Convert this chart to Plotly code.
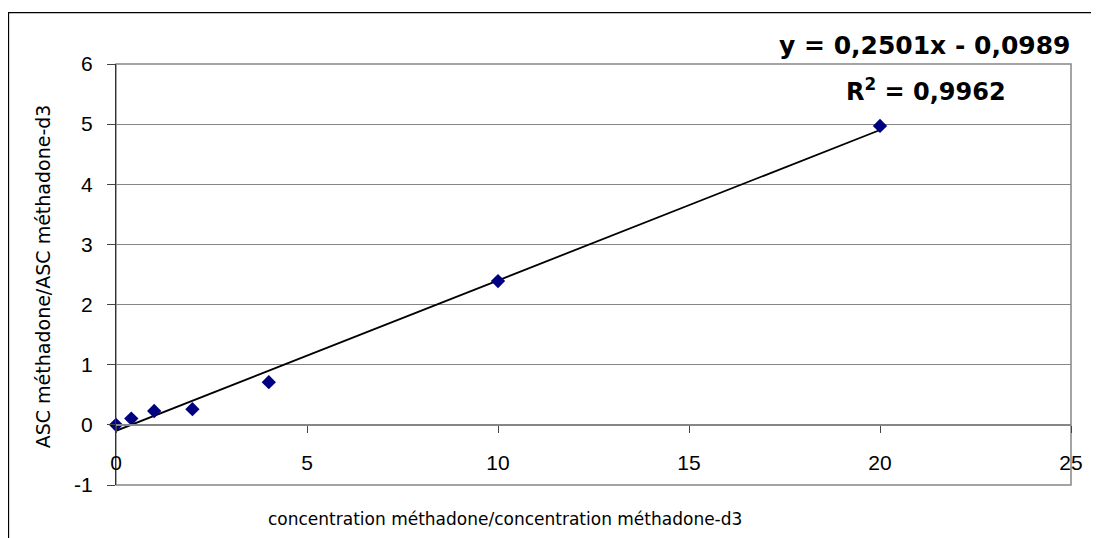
import plotly.graph_objects as go

# Data
x_conc = [0, 0.4, 1, 2, 4, 10, 20]
y_ratio = [0, 0.105, 0.23, 0.26, 0.71, 2.39, 4.97]
slope = 0.2501
intercept = -0.0989
trend_x = [0, 20]
x_tick_vals = [0, 5, 10, 15, 20, 25]
x_tick_text = ["0", "5", "10", "15", "20", "25"]
y_tick_vals = [-1, 0, 1, 2, 3, 4, 5, 6]
y_tick_text = ["-1", "0", "1", "2", "3", "4", "5", "6"]
eq_text = "y = 0,2501x - 0,0989"
r2_text = "R<sup>2</sup> = 0,9962"
x_title = "concentration méthadone/concentration méthadone-d3"
y_title = "ASC méthadone/ASC méthadone-d3"

# page body has an 8px margin: figure starts at screen (8, 8)
OFF = 8
W, H = 1099 - OFF, 538 - OFF
L, R, T, B = 116, 1071, 63.5, 485   # plot area in screen coords
pw, ph = R - L, B - T

def px(x):
    return (x - L) / pw

def py(y):
    return (B - y) / ph

trend_y = [slope * v + intercept for v in trend_x]

fig = go.Figure()
fig.add_trace(go.Scatter(x=trend_x, y=trend_y, mode="lines",
                         line=dict(color="black", width=1.8),
                         hoverinfo="skip", showlegend=False))
fig.add_trace(go.Scatter(x=x_conc, y=y_ratio, mode="markers",
                         marker=dict(symbol="diamond", size=11, color="#000080",
                                     line=dict(width=0)),
                         cliponaxis=False, showlegend=False))

gray = "#868686"
fig.update_layout(
    width=W, height=H,
    margin=dict(l=L - OFF, r=W - (R - OFF), t=T - OFF, b=H - (B - OFF), pad=0),
    paper_bgcolor="white", plot_bgcolor="white",
    font=dict(family="Liberation Sans, Arial, sans-serif", size=21, color="black"),
    xaxis=dict(range=[0, 25], tickmode="array", tickvals=x_tick_vals, ticktext=x_tick_text,
               showgrid=False, zeroline=False, showline=True, linecolor=gray, linewidth=1.5,
               ticks="outside", ticklen=7, tickcolor="#444", tickwidth=1,
               anchor="free", position=1 / 7,
               ticklabelstandoff=12),
    yaxis=dict(range=[-1, 6], tickmode="array", tickvals=y_tick_vals, ticktext=y_tick_text,
               showgrid=True, gridcolor=gray, gridwidth=1.3, zeroline=False,
               showline=True, linecolor="#333", linewidth=1.2,
               ticks="outside", ticklen=8, tickcolor="#444", tickwidth=1,
               ticklabelstandoff=10),
    shapes=[
        dict(type="rect", xref="paper", yref="paper", x0=0, x1=1, y0=0, y1=1,
             line=dict(color=gray, width=1.5), layer="below"),
        dict(type="rect", xref="paper", yref="paper",
             x0=px(8.5), x1=px(1110), y0=py(550), y1=py(12),
             line=dict(color="black", width=1.3), layer="below"),
    ],
    annotations=[
        dict(text=eq_text, xref="paper", yref="paper", x=px(925), y=py(45),
             xanchor="center", yanchor="middle", showarrow=False,
             font=dict(family="DejaVu Sans", size=25, color="black", weight="bold")),
        dict(text=r2_text, xref="paper", yref="paper", x=px(926), y=py(90),
             xanchor="center", yanchor="middle", showarrow=False,
             font=dict(family="DejaVu Sans", size=24, color="black", weight="bold")),
        dict(text=x_title, xref="paper", yref="paper", x=px(505), y=py(519),
             xanchor="center", yanchor="middle", showarrow=False,
             font=dict(family="DejaVu Sans", size=17, color="black")),
        dict(text=y_title, xref="paper", yref="paper", x=px(43), y=py(276),
             xanchor="center", yanchor="middle", showarrow=False, textangle=-90,
             font=dict(family="DejaVu Sans", size=19, color="black")),
    ],
)

fig.write_html("out.html")
